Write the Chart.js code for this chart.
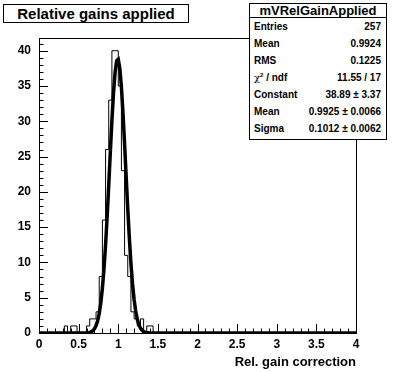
<!DOCTYPE html>
<html>
<head>
<meta charset="utf-8">
<script src="https://cdn.jsdelivr.net/npm/chart.js@4/dist/chart.umd.min.js"></script>
<style>
  body { margin: 0; background: #fff; }
  #wrap { position: relative; width: 396px; height: 372px; font-family: 'Liberation Sans', Arial, Helvetica, sans-serif; font-weight: bold; color: #000; }
  #wrap canvas { position: absolute; left: 0; top: 0; }
  .title { position: absolute; left: 3px; top: 4px; width: 186px; height: 19px; border: 1px solid #000; box-sizing: border-box; background: #fff;
           text-align: center; font-size: 15px; line-height: 17px; }
  .stats { position: absolute; left: 249px; top: 3px; width: 138px; height: 137px; border: 1px solid #000; box-sizing: border-box; background: #fff; }
  .stats .head { height: 13px; border-bottom: 1px solid #000; text-align: center; font-size: 13px; line-height: 13px; }
  .stats .row { height: 17px; line-height: 17px; font-size: 10px; padding: 0 5px 0 4px; display: flex; justify-content: space-between; }
  .stats sup { font-size: 6px; vertical-align: 4px; line-height: 0; }
  .stats .chi { font-weight: normal; font-family: 'DejaVu Serif', serif; font-size: 10px; }
</style>
</head>
<body>
<div id="wrap">
  <canvas id="chartGain" width="396" height="372"></canvas>
  <div class="title">Relative gains applied</div>
  <div class="stats" id="stats"></div>
</div>
<script>
// ── Relative gain histogram + gaussian fit ──

// histogram: only non-empty bins (lower edge, count), bin width 0.04 on 0..4
const binWidth = 0.04;
const histLow   = [0.36, 0.44, 0.48, 0.64, 0.68, 0.72, 0.76, 0.80, 0.84, 0.88, 0.92, 0.96, 1.00, 1.04, 1.08, 1.12, 1.16, 1.20, 1.24, 1.28, 1.32, 1.40, 1.44];
const histCount = [1,    1,    1,    1,    2,    2,    3,    8,    16,   26,   33,   40,   40,   35,   23,   11,   8,    3,    2,    1,    2,    1,    1];

// fitted gaussian curve
const fitX = [0, 0.58, 0.60, 0.62, 0.64, 0.66, 0.68, 0.70, 0.72, 0.74, 0.76, 0.78, 0.80, 0.82, 0.84, 0.86, 0.88, 0.90, 0.92, 0.94, 0.96, 0.98,
              1.00, 1.02, 1.04, 1.06, 1.08, 1.10, 1.12, 1.14, 1.16, 1.18, 1.20, 1.22, 1.24, 1.26, 1.28, 1.30, 1.32, 1.34, 1.36, 1.38, 1.40, 4];
const fitY = [0, 0.01, 0.02, 0.04, 0.09, 0.18, 0.33, 0.60, 1.04, 1.73, 2.78, 4.29, 6.37, 9.10, 12.50, 16.50, 20.97, 25.61, 30.09, 33.99, 36.93, 38.59,
              38.78, 37.48, 34.83, 31.13, 26.76, 22.12, 17.59, 13.44, 9.88, 6.99, 4.75, 3.11, 1.95, 1.18, 0.69, 0.38, 0.21, 0.11, 0.05, 0.03, 0.01, 0];

// axes
const xTicks = [0, 0.5, 1, 1.5, 2, 2.5, 3, 3.5, 4];
const xTickLabels = ['0', '0.5', '1', '1.5', '2', '2.5', '3', '3.5', '4'];
const yTicks = [0, 5, 10, 15, 20, 25, 30, 35, 40];
const yTickLabels = ['0', '5', '10', '15', '20', '25', '30', '35', '40'];
const xMax = 4, yMax = 41.8;
const xLabel = 'Rel. gain correction';

// stats box
const statsName = 'mVRelGainApplied';
const statsKeys = ['Entries', 'Mean', 'RMS', 'χ<sup>2</sup> / ndf', 'Constant', 'Mean', 'Sigma'];
const statsVals = ['257', '0.9924', '0.1225', '11.55 / 17', '38.89 ± 3.37', '0.9925 ± 0.0066', '0.1012 ± 0.0062'];

const FONT = "'Liberation Sans', Arial, Helvetica, sans-serif";

// build the stats box
(function() {
  const box = document.getElementById('stats');
  let html = `<div class="head">${statsName}</div>`;
  statsKeys.forEach((k, i) => {
    const key = k.replace('χ', '<span class="chi">χ</span>');
    html += `<div class="row"><span>${key}</span><span>${statsVals[i]}</span></div>`;
  });
  box.innerHTML = html;
})();

// full bin table from the non-empty bins
const nBins = Math.round(xMax / binWidth);
const counts = new Array(nBins).fill(0);
histLow.forEach((lo, i) => { counts[Math.round(lo / binWidth)] = histCount[i]; });
const histPoints = counts.map((c, i) => ({ x: i * binWidth, y: c }));
histPoints.push({ x: xMax, y: 0 });
const fitPoints = fitX.map((x, i) => ({ x, y: fitY[i] }));

// frame + inward ROOT-style ticks
const frameTicks = {
  id: 'frameTicks',
  afterDatasetsDraw(chart) {
    const { ctx, chartArea: a, scales: { x, y } } = chart;
    ctx.save();
    ctx.strokeStyle = '#000';
    ctx.lineWidth = 1;
    ctx.strokeRect(a.left + 0.5, a.top + 0.5, a.right - a.left, a.bottom - a.top);
    ctx.beginPath();
    for (let i = 0; i <= 40; i++) {
      const px = Math.round(x.getPixelForValue(i / 10)) + 0.5;
      const len = i % 5 === 0 ? 9 : 4.5;
      ctx.moveTo(px, a.bottom);
      ctx.lineTo(px, a.bottom - len);
    }
    for (let i = 0; i <= 41; i++) {
      const py = Math.round(y.getPixelForValue(i)) + 0.5;
      const len = i % 5 === 0 ? 9 : 4.5;
      ctx.moveTo(a.left, py);
      ctx.lineTo(a.left + len, py);
    }
    ctx.stroke();
    ctx.restore();
  }
};

new Chart(document.getElementById('chartGain'), {
  type: 'scatter',
  data: {
    datasets: [
      {
        type: 'line',
        label: 'fit',
        data: fitPoints,
        borderColor: '#000',
        borderWidth: 3.5,
        pointRadius: 0,
        tension: 0,
        fill: false
      },
      {
        type: 'line',
        label: statsName,
        data: histPoints,
        stepped: 'after',
        borderColor: '#000',
        borderWidth: 1,
        pointRadius: 0,
        fill: false
      }
    ]
  },
  options: {
    responsive: false,
    animation: false,
    layout: { padding: { left: 0, right: 40, top: 38, bottom: 0 } },
    plugins: { legend: { display: false }, tooltip: { enabled: false } },
    scales: {
      x: {
        type: 'linear',
        min: 0,
        max: xMax,
        grid: { display: false, drawTicks: false },
        border: { display: false },
        afterBuildTicks: s => { s.ticks = xTicks.map(v => ({ value: v })); },
        afterFit: s => { s.height = 39; },
        ticks: {
          autoSkip: false,
          maxRotation: 0,
          padding: 4,
          color: '#000',
          font: { size: 12, weight: 'bold', family: FONT },
          callback: (v, i) => xTickLabels[i]
        },
        title: {
          display: true,
          text: xLabel,
          align: 'end',
          color: '#000',
          font: { size: 13, weight: 'bold', family: FONT },
          padding: { top: 2, bottom: 2 }
        }
      },
      y: {
        type: 'linear',
        min: 0,
        max: yMax,
        grid: { display: false, drawTicks: false },
        border: { display: false },
        afterBuildTicks: s => { s.ticks = yTicks.map(v => ({ value: v })); },
        afterFit: s => { s.width = 39; },
        ticks: {
          padding: 8,
          color: '#000',
          font: { size: 12, weight: 'bold', family: FONT },
          callback: (v, i) => yTickLabels[i]
        }
      }
    }
  },
  plugins: [frameTicks]
});
</script>
</body>
</html>
